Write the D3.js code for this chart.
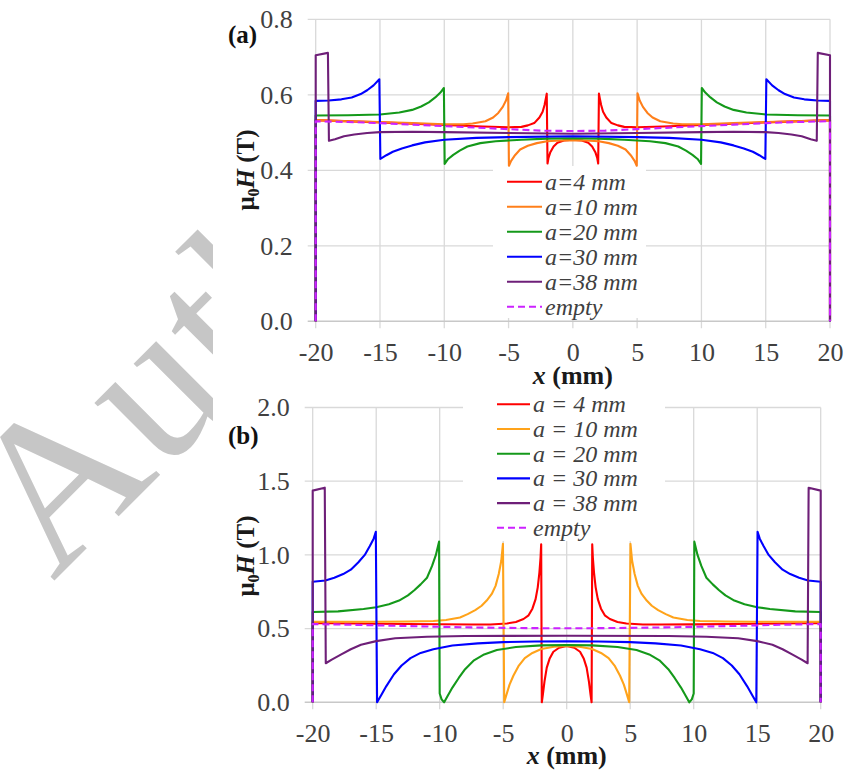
<!DOCTYPE html>
<html>
<head>
<meta charset="utf-8">
<script src="https://cdn.jsdelivr.net/npm/d3@7"></script>
<style>
  html, body { margin: 0; padding: 0; background: #fff; }
  svg { display: block; }
</style>
</head>
<body>
<script>
// ---------- data ----------
const xTicks = [-20, -15, -10, -5, 0, 5, 10, 15, 20];
const yTicksA = [0, 0.2, 0.4, 0.6, 0.8];
const yTicksB = [0, 0.5, 1.0, 1.5, 2.0];

const labelsA = ["a=4 mm", "a=10 mm", "a=20 mm", "a=30 mm", "a=38 mm", "empty"];
const labelsB = ["a = 4 mm", "a = 10 mm", "a = 20 mm", "a = 30 mm", "a = 38 mm", "empty"];

// panel (a): [x (mm), mu0H (T)]
const a4A = [[-20,0],[-20,0.533],[-15,0.527],[-10,0.520],[-7,0.516],[-5,0.514],[-4,0.515],[-3.5,0.519],[-3,0.525],[-2.6,0.540],[-2.35,0.555],[-2.2,0.573],[-2.1,0.590],[-2.03,0.603],[-1.97,0.418],[-1.9,0.432],[-1.75,0.448],[-1.5,0.463],[-1.2,0.473],[-0.7,0.479],[0,0.481],[0.7,0.479],[1.2,0.473],[1.5,0.463],[1.75,0.448],[1.9,0.432],[1.97,0.418],[2.03,0.603],[2.1,0.590],[2.2,0.573],[2.35,0.555],[2.6,0.540],[3,0.525],[3.5,0.519],[4,0.515],[5,0.514],[7,0.516],[10,0.520],[15,0.527],[20,0.533],[20,0]];
const a10A = [[-20,0],[-20,0.533],[-17.5,0.530],[-15,0.528],[-12.5,0.525],[-10,0.522],[-8.5,0.522],[-7.8,0.524],[-6.8,0.530],[-6.2,0.540],[-5.8,0.552],[-5.45,0.568],[-5.2,0.585],[-5.03,0.604],[-4.97,0.412],[-4.8,0.425],[-4.5,0.440],[-4.1,0.455],[-3.5,0.465],[-2.8,0.472],[-2,0.477],[-1,0.479],[0,0.480],[1,0.479],[2,0.477],[2.8,0.472],[3.5,0.465],[4.1,0.455],[4.5,0.440],[4.8,0.425],[4.97,0.412],[5.03,0.604],[5.2,0.585],[5.45,0.568],[5.8,0.552],[6.2,0.540],[6.8,0.530],[7.8,0.524],[8.5,0.522],[10,0.522],[12.5,0.525],[15,0.528],[17.5,0.530],[20,0.533],[20,0]];
const a20A = [[-20,0],[-20,0.545],[-17.5,0.546],[-15,0.548],[-13.5,0.553],[-12.5,0.560],[-11.8,0.569],[-11.2,0.580],[-10.7,0.593],[-10.3,0.606],[-10.03,0.618],[-9.97,0.417],[-9.7,0.430],[-9.3,0.441],[-8.8,0.452],[-8.2,0.463],[-7.2,0.472],[-6,0.477],[-4,0.481],[-2,0.484],[0,0.485],[2,0.484],[4,0.481],[6,0.477],[7.2,0.472],[8.2,0.463],[8.8,0.452],[9.3,0.441],[9.7,0.430],[9.97,0.417],[10.03,0.618],[10.3,0.606],[10.7,0.593],[11.2,0.580],[11.8,0.569],[12.5,0.560],[13.5,0.553],[15,0.548],[17.5,0.546],[20,0.545],[20,0]];
const a30A = [[-20,0],[-20,0.584],[-19,0.585],[-18,0.588],[-17.2,0.593],[-16.5,0.602],[-16,0.612],[-15.5,0.625],[-15.05,0.641],[-14.97,0.430],[-14.5,0.440],[-14,0.449],[-13.3,0.458],[-12.5,0.466],[-11.5,0.474],[-10,0.481],[-7.5,0.486],[-5,0.488],[0,0.490],[5,0.488],[7.5,0.486],[10,0.481],[11.5,0.474],[12.5,0.466],[13.3,0.458],[14,0.449],[14.5,0.440],[14.97,0.430],[15.05,0.641],[15.5,0.625],[16,0.612],[16.5,0.602],[17.2,0.593],[18,0.588],[19,0.585],[20,0.584],[20,0]];
const a38A = [[-20,0],[-20,0.705],[-19.05,0.711],[-18.97,0.478],[-18.5,0.482],[-17.8,0.490],[-17,0.495],[-16,0.499],[-15,0.501],[-12.5,0.502],[-10,0.501],[-5,0.499],[0,0.497],[5,0.499],[10,0.501],[12.5,0.502],[15,0.501],[16,0.499],[17,0.495],[17.8,0.490],[18.5,0.482],[18.97,0.478],[19.05,0.711],[20,0.705],[20,0]];
const emptyA = [[-20,0],[-20,0.530],[-17.5,0.528],[-15,0.525],[-12.5,0.521],[-10,0.517],[-7.5,0.513],[-5,0.509],[-2.5,0.505],[0,0.504],[2.5,0.505],[5,0.509],[7.5,0.513],[10,0.517],[12.5,0.521],[15,0.525],[17.5,0.528],[20,0.530],[20,0]];

// panel (b): [x (mm), mu0H (T)]
const a4B = [[-20,0],[-20,0.538],[-15,0.533],[-10,0.529],[-7.5,0.528],[-6,0.528],[-4.7,0.535],[-4,0.545],[-3.4,0.565],[-3,0.590],[-2.7,0.635],[-2.45,0.700],[-2.28,0.780],[-2.15,0.880],[-2.06,0.980],[-2.01,1.072],[-1.96,0.0],[-1.88,0.05],[-1.75,0.14],[-1.57,0.235],[-1.35,0.295],[-1.05,0.343],[-0.6,0.370],[0,0.382],[0.6,0.370],[1.05,0.343],[1.35,0.295],[1.57,0.235],[1.75,0.14],[1.88,0.05],[1.96,0.0],[2.01,1.072],[2.06,0.980],[2.15,0.880],[2.28,0.780],[2.45,0.700],[2.7,0.635],[3,0.590],[3.4,0.565],[4,0.545],[4.7,0.535],[6,0.528],[7.5,0.528],[10,0.529],[15,0.533],[20,0.538],[20,0]];
const a10B = [[-20,0],[-20,0.546],[-17.5,0.546],[-15,0.546],[-12.5,0.548],[-10.5,0.552],[-9.5,0.558],[-8.4,0.575],[-7.8,0.598],[-7.2,0.625],[-6.7,0.655],[-6.3,0.690],[-5.9,0.735],[-5.6,0.790],[-5.35,0.870],[-5.15,0.960],[-5.02,1.075],[-4.92,0.0],[-4.75,0.05],[-4.5,0.12],[-4.2,0.18],[-3.8,0.245],[-3.3,0.300],[-2.7,0.335],[-2,0.362],[-1,0.377],[0,0.382],[1,0.377],[2,0.362],[2.7,0.335],[3.3,0.300],[3.8,0.245],[4.2,0.18],[4.5,0.12],[4.75,0.05],[4.92,0.0],[5.02,1.075],[5.15,0.960],[5.35,0.870],[5.6,0.790],[5.9,0.735],[6.3,0.690],[6.7,0.655],[7.2,0.625],[7.8,0.598],[8.4,0.575],[9.5,0.558],[10.5,0.552],[12.5,0.548],[15,0.546],[17.5,0.546],[20,0.546],[20,0]];
const a20B = [[-20,0],[-20,0.613],[-18,0.617],[-16,0.633],[-15,0.645],[-14,0.665],[-13.2,0.690],[-12.5,0.725],[-12,0.760],[-11.5,0.800],[-11,0.845],[-10.6,0.925],[-10.3,1.000],[-10.05,1.090],[-10.0,0.06],[-9.85,0.02],[-9.65,0.0],[-9.4,0.04],[-9.0,0.10],[-8.5,0.165],[-8,0.225],[-7.3,0.285],[-6.5,0.325],[-5.5,0.355],[-4,0.375],[-2,0.386],[0,0.389],[2,0.386],[4,0.375],[5.5,0.355],[6.5,0.325],[7.3,0.285],[8,0.225],[8.5,0.165],[9.0,0.10],[9.4,0.04],[9.65,0.0],[9.85,0.02],[10.0,0.06],[10.05,1.090],[10.3,1.000],[10.6,0.925],[11,0.845],[11.5,0.800],[12,0.760],[12.5,0.725],[13.2,0.690],[14,0.665],[15,0.645],[16,0.633],[18,0.617],[20,0.613],[20,0]];
const a30B = [[-20,0],[-20,0.818],[-19,0.826],[-18.3,0.845],[-17.6,0.870],[-17,0.900],[-16.4,0.950],[-15.9,1.000],[-15.5,1.060],[-15.2,1.110],[-15.03,1.157],[-14.93,0.0],[-14.6,0.05],[-14.2,0.11],[-13.6,0.19],[-13,0.25],[-12.3,0.300],[-11.5,0.335],[-10.5,0.360],[-9,0.385],[-7,0.400],[-5,0.408],[-2.5,0.412],[0,0.413],[2.5,0.412],[5,0.408],[7,0.400],[9,0.385],[10.5,0.360],[11.5,0.335],[12.3,0.300],[13,0.25],[13.6,0.19],[14.2,0.11],[14.6,0.05],[14.93,0.0],[15.03,1.157],[15.2,1.110],[15.5,1.060],[15.9,1.000],[16.4,0.950],[17,0.900],[17.6,0.870],[18.3,0.845],[19,0.826],[20,0.818],[20,0]];
const a38B = [[-20,0],[-20,1.436],[-19.05,1.456],[-18.97,0.265],[-18.5,0.290],[-17.75,0.325],[-17,0.360],[-16.2,0.390],[-15,0.415],[-13.5,0.435],[-11,0.445],[-8,0.450],[0,0.452],[8,0.450],[11,0.445],[13.5,0.435],[15,0.415],[16.2,0.390],[17,0.360],[17.75,0.325],[18.5,0.290],[18.97,0.265],[19.05,1.456],[20,1.436],[20,0]];
const emptyB = [[-20,0],[-20,0.531],[-17.5,0.527],[-15,0.522],[-12.5,0.517],[-10,0.512],[-7.5,0.508],[-5,0.505],[-2.5,0.503],[0,0.502],[2.5,0.503],[5,0.505],[7.5,0.508],[10,0.512],[12.5,0.517],[15,0.522],[17.5,0.527],[20,0.531],[20,0]];

// ---------- page ----------
const W = 844, H = 771;
const svg = d3.select("body").append("svg").attr("width", W).attr("height", H);
svg.append("rect").attr("width", W).attr("height", H).attr("fill", "#fff");

// background watermark, partly covered by the figure sheet
svg.append("text")
  .attr("transform", "translate(53,582) rotate(-45)")
  .attr("font-family", "'Liberation Serif', 'Times New Roman', serif")
  .attr("font-size", 212)
  .attr("fill", "#c6c6c6")
  .text("Author");
svg.append("rect").attr("x", 213).attr("y", 0).attr("width", W - 213).attr("height", H).attr("fill", "#fff");

const serif = "'Liberation Serif', 'Times New Roman', serif";
const gridColor = "#d9d9d9";
const textGray = "#404040";

function drawPanel(cfg) {
  const g = svg.append("g");
  const x = d3.scaleLinear().domain([-20, 20]).range(cfg.xRange);
  const y = d3.scaleLinear().domain(cfg.yDomain).range(cfg.yRange);
  const [x0, x1] = cfg.xRange;
  const [yb, yt] = cfg.yRange;

  // horizontal gridlines (extend left as tick marks)
  g.append("g").selectAll("line").data(cfg.yTicks.filter(d => d !== 0)).join("line")
    .attr("x1", x0 - 8).attr("x2", x1)
    .attr("y1", d => y(d)).attr("y2", d => y(d))
    .attr("stroke", gridColor).attr("stroke-width", 1.3);
  // vertical gridlines (extend below as tick marks)
  g.append("g").selectAll("line").data(xTicks).join("line")
    .attr("x1", d => x(d)).attr("x2", d => x(d))
    .attr("y1", yt).attr("y2", yb + 7)
    .attr("stroke", gridColor).attr("stroke-width", 1.3);
  // horizontal axis line
  g.append("line").attr("x1", x0 - 8).attr("x2", x1).attr("y1", yb).attr("y2", yb)
    .attr("stroke", "#c8c8c8").attr("stroke-width", 1.6);

  // tick labels through d3 axes
  const ax = g.append("g").attr("transform", `translate(0,${yb})`)
    .call(d3.axisBottom(x).tickValues(xTicks).tickSize(0).tickPadding(cfg.xPad).tickFormat(d => String(d)));
  ax.select(".domain").remove();
  ax.selectAll("text").attr("font-family", serif).attr("font-size", 26).attr("fill", textGray);

  const ay = g.append("g").attr("transform", `translate(${x0},0)`)
    .call(d3.axisLeft(y).tickValues(cfg.yTicks).tickSize(0).tickPadding(cfg.yPad).tickFormat(d => d.toFixed(1)));
  ay.select(".domain").remove();
  ay.selectAll("text").attr("font-family", serif).attr("font-size", 26).attr("fill", textGray);

  // legend sheet covering the grid
  const L = cfg.legend;
  g.append("rect").attr("x", L.x).attr("y", L.y).attr("width", L.w).attr("height", L.h).attr("fill", "#fff");

  // series
  const line = d3.line().x(d => x(d[0])).y(d => y(d[1])).curve(d3.curveLinear);
  cfg.series.forEach(s => {
    g.append("path").datum(s.data)
      .attr("d", line)
      .attr("fill", "none")
      .attr("stroke", s.color)
      .attr("stroke-width", 2.1)
      .attr("stroke-linejoin", "round")
      .attr("stroke-dasharray", s.dash || null);
  });

  // legend entries
  cfg.series.forEach((s, i) => {
    const ly = L.row0 + i * L.step;
    g.append("line").attr("x1", L.lx0).attr("x2", L.lx1).attr("y1", ly).attr("y2", ly)
      .attr("stroke", s.color).attr("stroke-width", 2.1).attr("stroke-dasharray", s.dash ? "7,4" : null);
    g.append("text").attr("x", L.tx).attr("y", ly + 8)
      .attr("font-family", serif).attr("font-style", "italic").attr("font-size", L.fs)
      .attr("fill", textGray).text(cfg.labels[i]);
  });

  // panel tag
  g.append("text").attr("x", cfg.tag[0]).attr("y", cfg.tag[1])
    .attr("font-family", serif).attr("font-weight", "bold").attr("font-size", 25)
    .attr("fill", "#111").text(cfg.tagText);

  // x axis title
  const xt = g.append("text").attr("x", (x0 + x1) / 2).attr("y", cfg.xTitleY)
    .attr("text-anchor", "middle").attr("font-family", serif).attr("font-weight", "bold")
    .attr("font-size", 26).attr("fill", "#1a1a1a");
  xt.append("tspan").attr("font-style", "italic").text("x");
  xt.append("tspan").text(" (mm)");

  // y axis title
  const yt2 = g.append("text")
    .attr("transform", `translate(${cfg.yTitle[0]},${cfg.yTitle[1]}) rotate(-90)`)
    .attr("text-anchor", "middle").attr("font-family", serif).attr("font-weight", "bold")
    .attr("font-size", 25).attr("fill", "#1a1a1a");
  yt2.append("tspan").text("\u03bc");
  yt2.append("tspan").attr("font-size", 16).attr("dy", 5).text("0");
  yt2.append("tspan").attr("font-style", "italic").attr("dy", -5).text("H");
  yt2.append("tspan").text(" (T)");
}

const colorsA = ["#ff0000", "#ff7f1a", "#14991a", "#0000ff", "#6e1f78", "#cc22ff"];
const colorsB = ["#ff0000", "#ffa31a", "#14991a", "#0000ff", "#6e1f78", "#cc22ff"];

drawPanel({
  xRange: [315.7, 830], yDomain: [0, 0.8], yRange: [321.3, 19.3], yTicks: yTicksA,
  xPad: 21, yPad: 23,
  labels: labelsA,
  series: [
    { data: a4A, color: colorsA[0] }, { data: a10A, color: colorsA[1] },
    { data: a20A, color: colorsA[2] }, { data: a30A, color: colorsA[3] },
    { data: a38A, color: colorsA[4] }, { data: emptyA, color: colorsA[5], dash: "7,4" }
  ],
  legend: { x: 493, y: 166, w: 153, h: 152, row0: 181.7, step: 25, lx0: 507, lx1: 542, tx: 545, fs: 24 },
  tag: [228, 43], tagText: "(a)",
  xTitleY: 384, yTitle: [254, 170]
});

drawPanel({
  xRange: [312.7, 820.7], yDomain: [0, 2], yRange: [702.3, 407.5], yTicks: yTicksB,
  xPad: 21, yPad: 23,
  labels: labelsB,
  series: [
    { data: a4B, color: colorsB[0] }, { data: a10B, color: colorsB[1] },
    { data: a20B, color: colorsB[2] }, { data: a30B, color: colorsB[3] },
    { data: a38B, color: colorsB[4] }, { data: emptyB, color: colorsB[5], dash: "7,4" }
  ],
  legend: { x: 463, y: 393, w: 202, h: 148, row0: 404.3, step: 24.7, lx0: 497, lx1: 530, tx: 533, fs: 24 },
  tag: [228, 444], tagText: "(b)",
  xTitleY: 764, yTitle: [254, 556]
});
</script>
</body>
</html>
